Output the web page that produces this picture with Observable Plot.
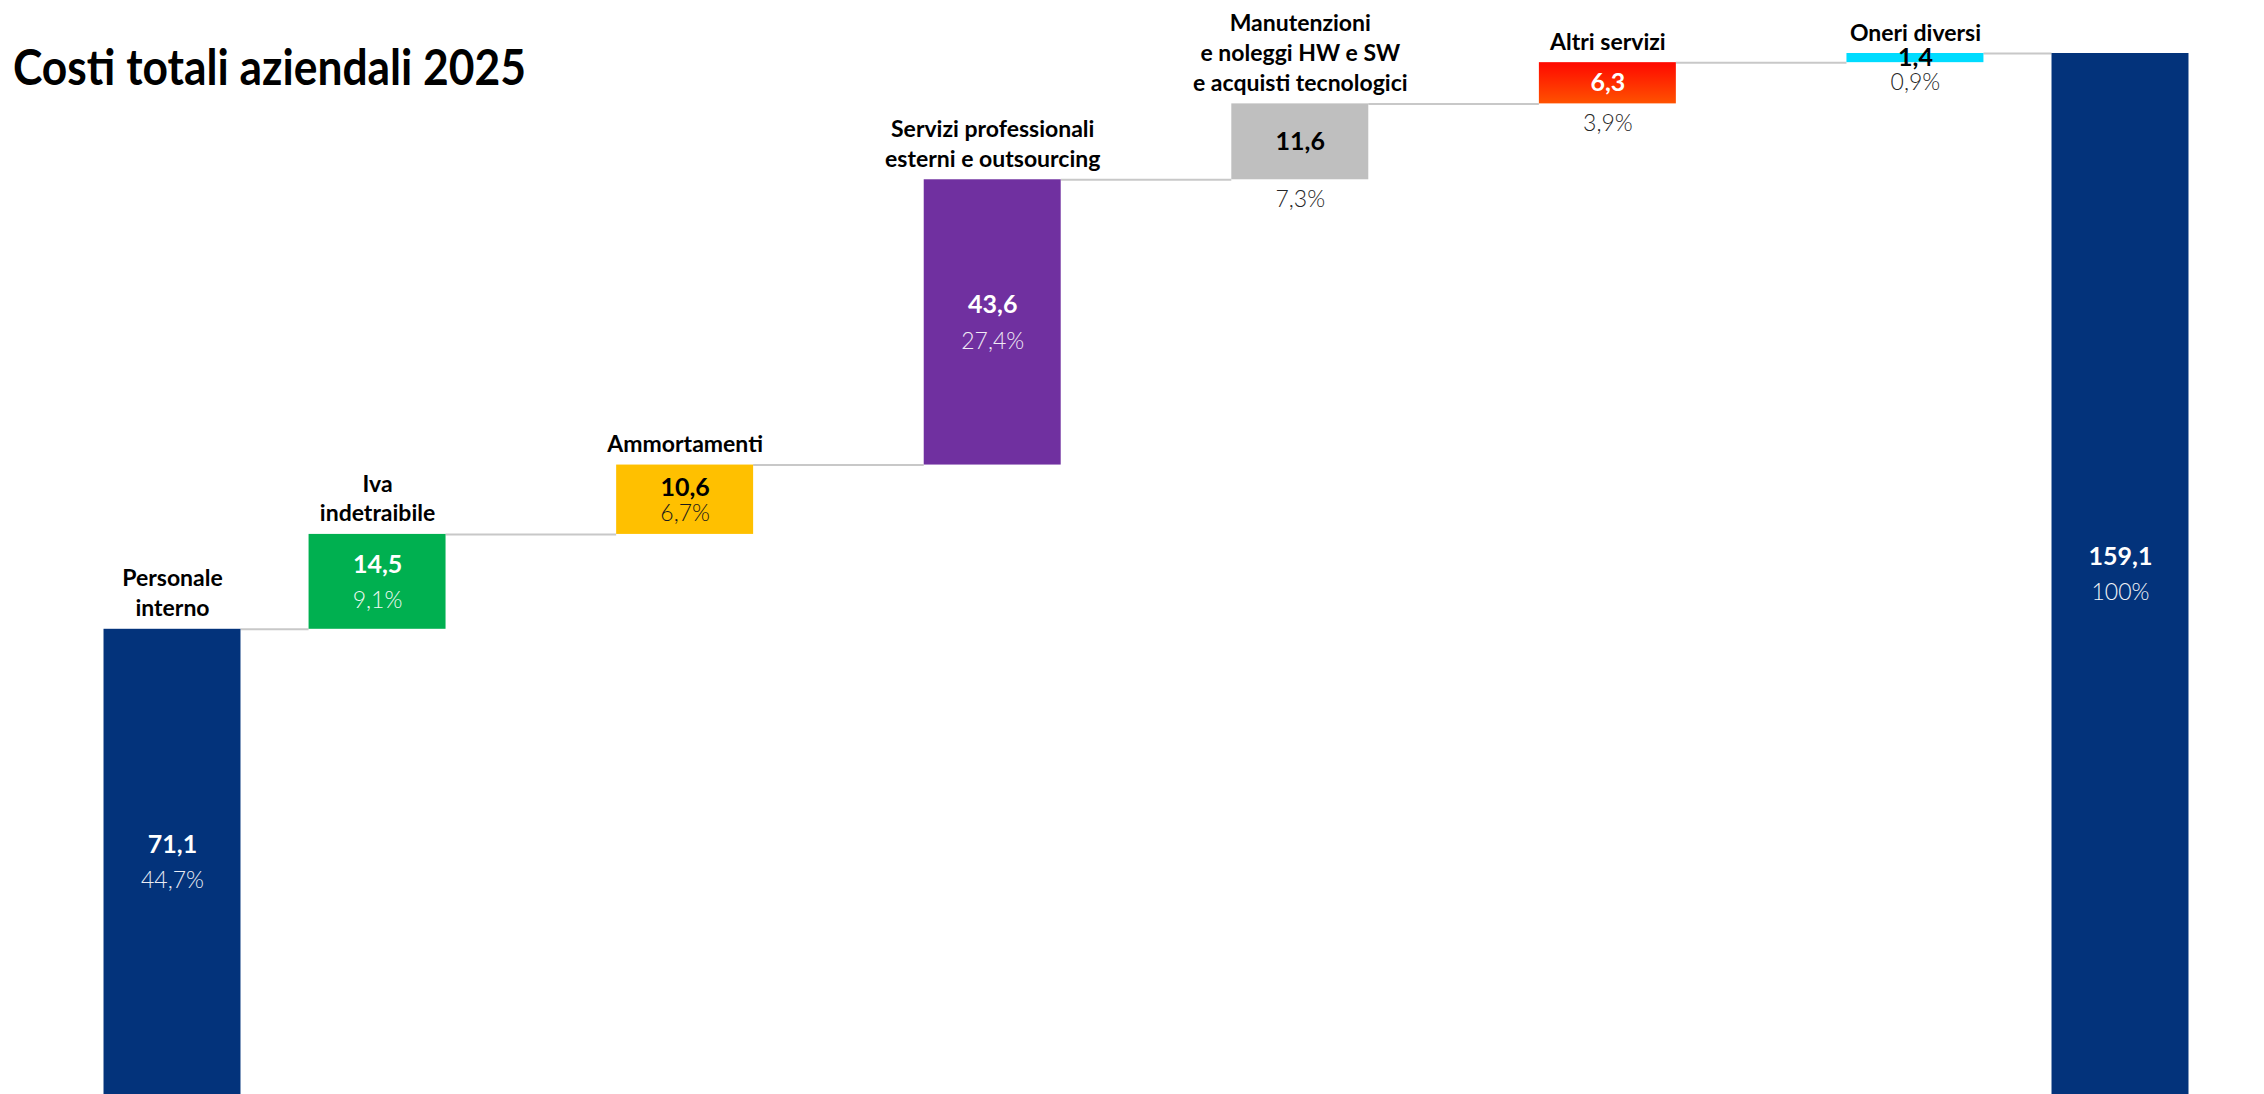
<!DOCTYPE html>
<html><head><meta charset="utf-8">
<script src="https://cdn.jsdelivr.net/npm/d3@7"></script>
<script src="https://cdn.jsdelivr.net/npm/@observablehq/plot@0.6"></script>
<style>
html,body{margin:0;padding:0;background:#fff;}
#wrap{position:relative;width:2264px;height:1094px;overflow:hidden;}
#title{position:absolute;left:13px;top:42px;z-index:2;font-family:Lato,sans-serif;font-weight:700;font-size:49px;line-height:1;color:#000;white-space:nowrap;transform:scaleX(0.905);transform-origin:left top;}
svg{display:block;}
</style></head><body>
<div id="wrap"><div id="title">Costi totali aziendali 2025</div></div>
<script>
// ---- data ----
const categories = ["Personale interno", "Iva indetraibile", "Ammortamenti",
  "Servizi professionali esterni e outsourcing",
  "Manutenzioni e noleggi HW e SW e acquisti tecnologici",
  "Altri servizi", "Oneri diversi", "Totale"];
const categoryLabels = ["Personale\ninterno", "Iva\nindetraibile", "Ammortamenti",
  "Servizi professionali\nesterni e outsourcing",
  "Manutenzioni\ne noleggi HW e SW\ne acquisti tecnologici",
  "Altri servizi", "Oneri diversi", ""];
const values = [71.1, 14.5, 10.6, 43.6, 11.6, 6.3, 1.4, 159.1];
const shares = [44.7, 9.1, 6.7, 27.4, 7.3, 3.9, 0.9, 100];

// ---- layout & style ----
const layout = {slots: [0, 2, 5, 8, 11, 14, 17, 19], halfWidth: 0.668};
const barColors = ["#03337b", "#00b050", "#ffc000", "#7030a0", "#bfbfbf", "url(#altriGrad)", "#00dcff", "#03337b"];
const valueColors = ["#ffffff", "#ffffff", "#000000", "#ffffff", "#000000", "#ffffff", "#000000", "#ffffff"];
const shareColors = ["#e9ecf4", "#f0faf3", "#1a1a1a", "#f1ebf6", "#262626", "#262626", "#262626", "#f2f4f8"];
const sharePlacement = ["inside", "inside", "tight", "inside", "below", "below", "below", "inside"];

const fmt = v => String(v).replace(".", ",");
let run = 0;
const rows = values.map((v, i) => {
  const isTotal = i === values.length - 1;
  const start = isTotal ? 0 : run;
  const end = isTotal ? v : run + v;
  if (!isTotal) run += v;
  return {
    category: categories[i], label: categoryLabels[i], value: fmt(v), share: fmt(shares[i]) + "%",
    start, end, mid: (start + end) / 2, slot: layout.slots[i],
    fill: barColors[i], valueFill: valueColors[i], shareFill: shareColors[i], placement: sharePlacement[i]
  };
});
const connectors = rows.slice(0, -1).map((r, i) => ({
  y: r.end, x1: r.slot + layout.halfWidth, x2: rows[i + 1].slot - layout.halfWidth
}));

const valueFont = {fontSize: 25, fontWeight: 700, fill: "valueFill", lineAnchor: "middle"};
const shareFont = {fontSize: 23, fontWeight: 300, fill: "shareFill", lineAnchor: "middle"};

const chart = Plot.plot({
  width: 2264, height: 1094,
  marginLeft: 172, marginRight: 144, marginTop: 53, marginBottom: 0,
  x: {domain: d3.extent(layout.slots), axis: null},
  y: {domain: [0, d3.max(rows, d => d.end)], axis: null},
  color: {type: "identity"},
  style: {fontFamily: "Lato, sans-serif", background: "transparent", overflow: "visible"},
  marks: [
    Plot.ruleY(connectors, {y: "y", x1: "x1", x2: "x2", stroke: "#c8c8c8", strokeWidth: 2}),
    Plot.rect(rows, {x1: d => d.slot - layout.halfWidth, x2: d => d.slot + layout.halfWidth, y1: "start", y2: "end", fill: "fill"}),
    Plot.text(rows, {x: "slot", y: "end", text: "label", lineAnchor: "bottom", dy: -13, lineHeight: 1.3,
      fontSize: 23, fontWeight: 700, fill: "#000"}),
    // values
    Plot.text(rows.filter(d => d.placement === "inside"), {x: "slot", y: "mid", text: "value", dy: -17, ...valueFont}),
    Plot.text(rows.filter(d => d.placement === "tight"), {x: "slot", y: "mid", text: "value", dy: -12, ...valueFont}),
    Plot.text(rows.filter(d => d.placement === "below"), {x: "slot", y: "mid", text: "value", dy: 0, ...valueFont}),
    // shares
    Plot.text(rows.filter(d => d.placement === "inside"), {x: "slot", y: "mid", text: "share", dy: 19, ...shareFont}),
    Plot.text(rows.filter(d => d.placement === "tight"), {x: "slot", y: "mid", text: "share", dy: 14, ...shareFont}),
    Plot.text(rows.filter(d => d.placement === "below"), {x: "slot", y: "start", text: "share", dy: 20, ...shareFont})
  ]
});

const defs = d3.select(chart).insert("defs", ":first-child");
const grad = defs.append("linearGradient").attr("id", "altriGrad")
  .attr("x1", 0).attr("y1", 0).attr("x2", 0).attr("y2", 1);
grad.append("stop").attr("offset", "0%").attr("stop-color", "#ff0800");
grad.append("stop").attr("offset", "100%").attr("stop-color", "#ff5200");

document.getElementById("wrap").appendChild(chart);
</script>
</body></html>
